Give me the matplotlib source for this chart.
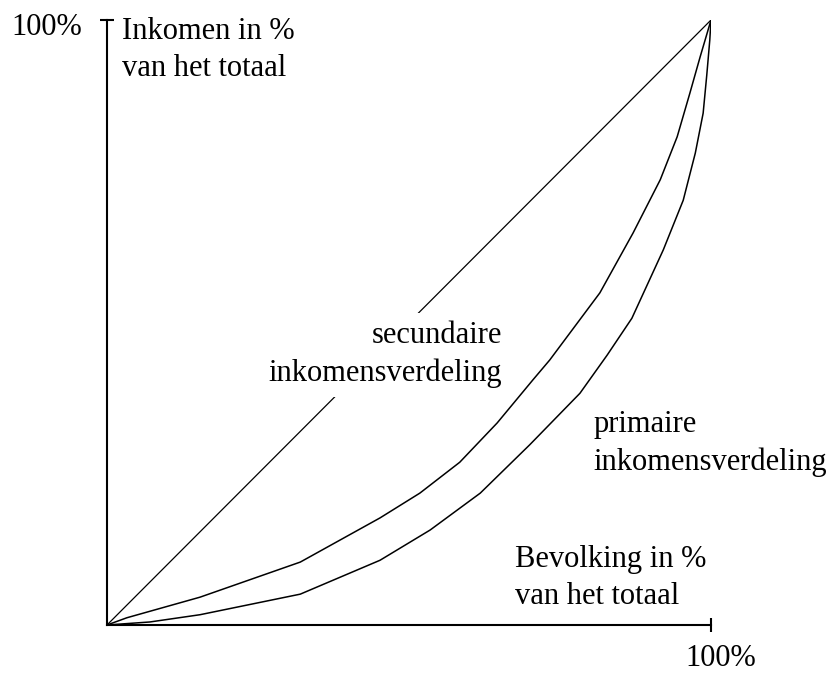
import matplotlib
matplotlib.use('Agg')
from matplotlib import pyplot as plt

plt.rcParams['font.family'] = ['Liberation Serif', 'DejaVu Serif']

# Lorenz-curves (percent of population, percent of income)
bev_sec = [0, 3.3, 15.4, 32.0, 45.2, 51.8, 58.4, 64.6, 70.5, 73.3, 81.6, 87.1, 91.6, 94.4, 96.5, 98.2, 99.5, 100]
ink_sec = [0, 1.2, 4.6, 10.4, 17.7, 21.8, 26.9, 33.4, 40.5, 43.8, 54.9, 64.8, 73.6, 80.7, 87.9, 93.9, 98.3, 100]

bev_prim = [0, 7.1, 15.4, 32.0, 45.2, 53.5, 61.8, 70.0, 78.3, 82.8, 86.9, 92.1, 95.4, 97.4, 98.7, 99.3, 99.8, 100]
ink_prim = [0, 0.5, 1.7, 5.1, 10.7, 15.7, 21.8, 29.8, 38.3, 44.6, 50.7, 62.0, 70.2, 78.0, 84.6, 90.9, 96.7, 100]

gelijk = [0, 100]  # lijn van volledige gelijkheid

fig = plt.figure(figsize=(8.32, 6.73), dpi=100)
ax = fig.add_axes([107/832, 48/673, 604/832, 605/673])

ax.plot(gelijk, gelijk, color='black', lw=0.9, zorder=2)
ax.plot(bev_sec, ink_sec, color='black', lw=1.1, zorder=2)
ax.plot(bev_prim, ink_prim, color='black', lw=1.1, zorder=2)

ax.set_xlim(0, 100)
ax.set_ylim(0, 100)
for s in ['top', 'right']:
    ax.spines[s].set_visible(False)
for s in ['left', 'bottom']:
    ax.spines[s].set_linewidth(1.5)
ax.set_xticks([100])
ax.set_yticks([100])
ax.tick_params(direction='inout', length=10, width=1.5, labelleft=False, labelbottom=False)

fs = 22
ls = 1.38
ax.text(-4.1, 97.5, '100%', fontsize=fs, ha='right', va='baseline', clip_on=False)
ax.text(101.6, -6.8, '100%', fontsize=fs, ha='center', va='baseline', clip_on=False)
ax.text(2.5, 100.5, 'Inkomen in %\nvan het totaal', fontsize=fs, ha='left', va='top',
        linespacing=ls, clip_on=False)
ax.text(65.4, 50.2, 'secundaire\ninkomensverdeling', fontsize=fs, ha='right', va='top',
        multialignment='right', linespacing=ls, zorder=3,
        bbox=dict(facecolor='white', edgecolor='none', pad=6))
ax.text(80.5, 35.5, 'primaire\ninkomensverdeling', fontsize=fs, ha='left', va='top',
        linespacing=ls, clip_on=False)
ax.text(67.6, 13.3, 'Bevolking in %\nvan het totaal', fontsize=fs, ha='left', va='top',
        linespacing=ls)

plt.savefig('out.png')
